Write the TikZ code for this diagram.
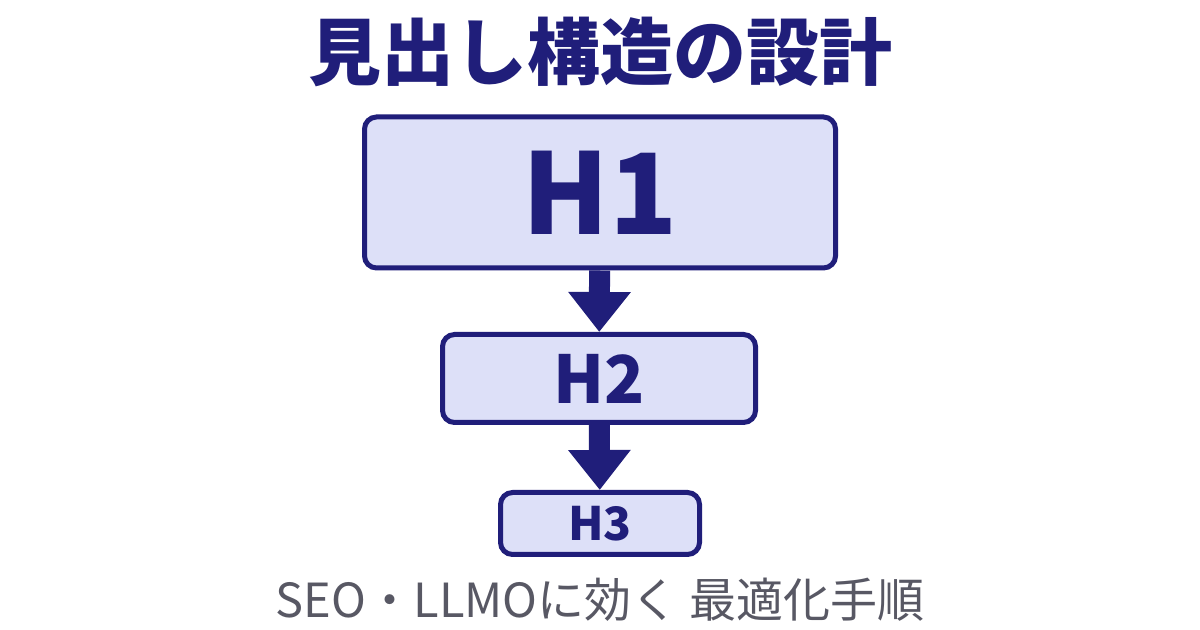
\documentclass[tikz,border=0pt]{standalone}
\usepackage{fontspec}
\setmainfont{Noto Sans CJK JP}
\usepackage{xcolor}
\usepackage{tikz}
\usetikzlibrary{positioning, shapes}
\usetikzlibrary{arrows.meta}

\definecolor{navy}{RGB}{32,30,122}
\definecolor{boxfill}{RGB}{221,224,248}
\definecolor{subgray}{RGB}{88,88,100}

\begin{document}
\begin{tikzpicture}[x=0.5pt,y=-0.5pt]
            \tikzset{level/.style = {draw=navy, fill=boxfill, line width=2.5pt, rounded corners=6pt, inner sep=0pt, text=navy, font=\bfseries}}
            \tikzset{edge/.style = {navy, line width=10.5pt, -{Triangle[length=20pt, width=30pt]}}}

            % canvas
            \useasboundingbox (0,0) rectangle (1200,630);
            \fill[white] (0,0) rectangle (1200,630);

            % title
            \node[text=navy, font=\fontsize{36.5}{36.5}\selectfont\bfseries] (title) at (600,52) {見出し構造の設計};

            % heading levels
            \node[level, minimum width=235.5pt, minimum height=75.5pt, font=\fontsize{56}{56}\selectfont\bfseries] (h1) at (600,192.5) {H1};
            \node[level, minimum width=156.5pt, minimum height=44pt, font=\fontsize{33}{33}\selectfont\bfseries] (h2) at (599,378.5) {H2};
            \node[level, minimum width=99.5pt, minimum height=31pt, font=\fontsize{23}{23}\selectfont\bfseries] (h3) at (600,523.5) {H3};

            % arrows
            \draw[edge] (h1) -- (h2);
            \draw[edge] (h2) -- (h3);

            % subtitle
            \node[text=subgray, font=\fontsize{23.5}{23.5}\selectfont] (sub) at (600,600) {SEO・LLMOに効く 最適化手順};

\end{tikzpicture}
\end{document}
